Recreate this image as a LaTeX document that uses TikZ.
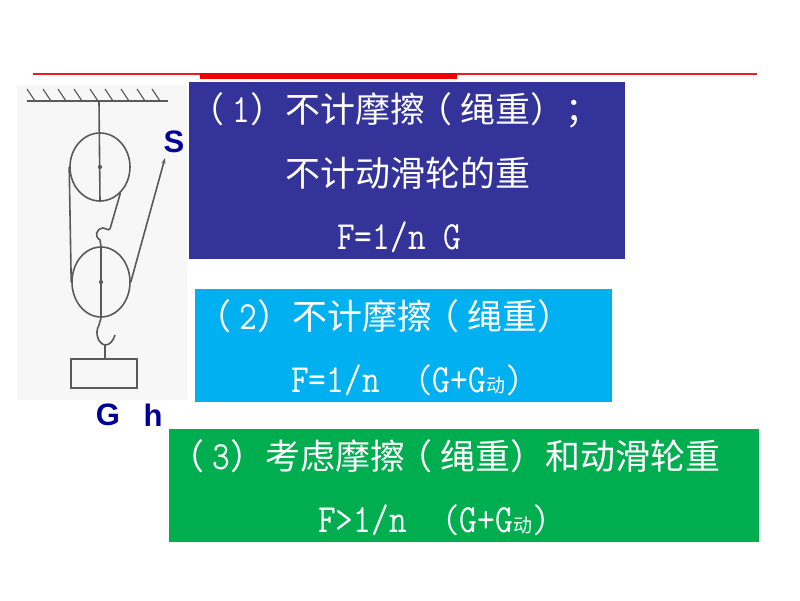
\documentclass[tikz,border=0pt]{standalone}
\usepackage{fontspec}
\setmainfont{Noto Sans CJK SC}
\newfontfamily\labelfont{Liberation Sans}[Scale=1]
\usepackage{tikz}
\usetikzlibrary{shapes.geometric,arrows.meta}
\definecolor{boxone}{HTML}{333399}
\definecolor{boxtwo}{HTML}{00B0F0}
\definecolor{boxthree}{HTML}{00AE50}
\definecolor{labelblue}{HTML}{000099}
\definecolor{rulered}{HTML}{E8201C}
\definecolor{sketchgray}{HTML}{5A5A5A}
\newcommand{\la}[1]{\scalebox{.86}[1]{\ttfamily\fontsize{40}{44}\selectfont #1}}
\newcommand{\sm}{{\fontsize{19}{20}\selectfont 动}}
\newcommand{\lp}{\kern-8pt（\kern8pt}

\begin{document}
\begin{tikzpicture}[
    x=1pt, y=-1pt,
    >=Stealth,
    panel/.style={anchor=north west, inner sep=0pt, outer sep=0pt},
    line/.style={anchor=west, inner sep=0pt, text=white, font=\fontsize{35}{40}\selectfont},
    letter/.style={anchor=center, inner sep=0pt, text=labelblue, font=\labelfont\bfseries\fontsize{31}{36}\selectfont},
    rope/.style={draw=sketchgray, line width=1.6pt},
    wheel/.style={ellipse, draw=sketchgray, line width=1.6pt, inner sep=0pt}
]
\useasboundingbox (0,0) rectangle (800,600);
\fill[white] (0,0) rectangle (800,600);

\fill[black!3] (17,85) rectangle (187,400);

\fill[rulered] (33,73) rectangle (757,74.6);
\fill[red!95!black] (200,73) rectangle (457,78.5);

\node[panel, fill=boxone, minimum width=436pt, minimum height=177pt] (first) at (189,82) {};
\node[panel, fill=boxtwo, minimum width=417pt, minimum height=113pt] (second) at (195,289) {};
\node[panel, fill=boxthree, minimum width=590pt, minimum height=113pt] (third) at (169,429) {};

\node[line] (l1) at (197.5,110) {\lp\la{1}）不计摩擦\lp 绳重）；};
\node[line] (l2) at (285,173) {不计动滑轮的重};
\node[line] (l3) at (337,237) {\la{F=1/n G}};
\node[line] (l4) at (204.5,316) {\lp\la{2}）不计摩擦\lp 绳重）};
\node[line] (l5) at (291,380) {\la{F=1/n~~(G+G}\sm\la{)}};
\node[line] (l6) at (177.5,456) {\lp\la{3}）考虑摩擦\lp 绳重）和动滑轮重};
\node[line] (l7) at (318,520) {\la{F>1/n~~(G+G}\sm\la{)}};

\coordinate (roofL) at (27,101);
\coordinate (roofR) at (168,101);
\coordinate (roofM) at (99,101);
\draw[rope] (roofL) -- (roofR);
\foreach \hx in {27,43,58,74,90,105,121,137,152}
    \draw[draw=sketchgray, line width=1.2pt] (\hx,89) -- (\hx+8,101);

\node[wheel, minimum width=60pt, minimum height=68pt] (upper) at (100,167) {};
\node[wheel, minimum width=58pt, minimum height=70pt] (lower) at (101,282) {};
\node[circle, fill=sketchgray, inner sep=1.5pt] (upperhub) at (100,167) {};
\node[circle, fill=sketchgray, inner sep=1.5pt] (lowerhub) at (101,282) {};

\coordinate (ropeEnd) at (165,158);
\coordinate (hookA) at (110,229);
\coordinate (hookB) at (105,345);
\coordinate (hookC) at (115,335);
\coordinate (loadtop) at (105,359);

\draw[rope] (roofM) -- (upper.south);
\draw[rope] (upper.west) -- (lower.west);
\draw[rope] (upper.-52) -- (hookA);
\draw[rope,-{Stealth[length=6pt,width=4pt]}] (lower.east) -- (ropeEnd);
\draw[rope] (lower.north) -- (100,240) .. controls (94,236) and (96,229) .. (103,228) .. controls (106,228) and (108,231) .. (hookA);
\draw[rope] (lower.north) -- (lower.south);
\draw[rope] (lower.south) -- (99,325) .. controls (94,334) and (99,344) .. (hookB) .. controls (110,345) and (113,341) .. (hookC);
\draw[rope] (hookB) -- (loadtop);

\node[panel, draw=sketchgray, line width=1.6pt, minimum width=66pt, minimum height=29pt] (load) at (71,359) {};

\node[letter] (S) at (174,142) {S};
\node[letter] (G) at (108,415) {G};
\node[letter] (h) at (153,415) {h};
\end{tikzpicture}
\end{document}
